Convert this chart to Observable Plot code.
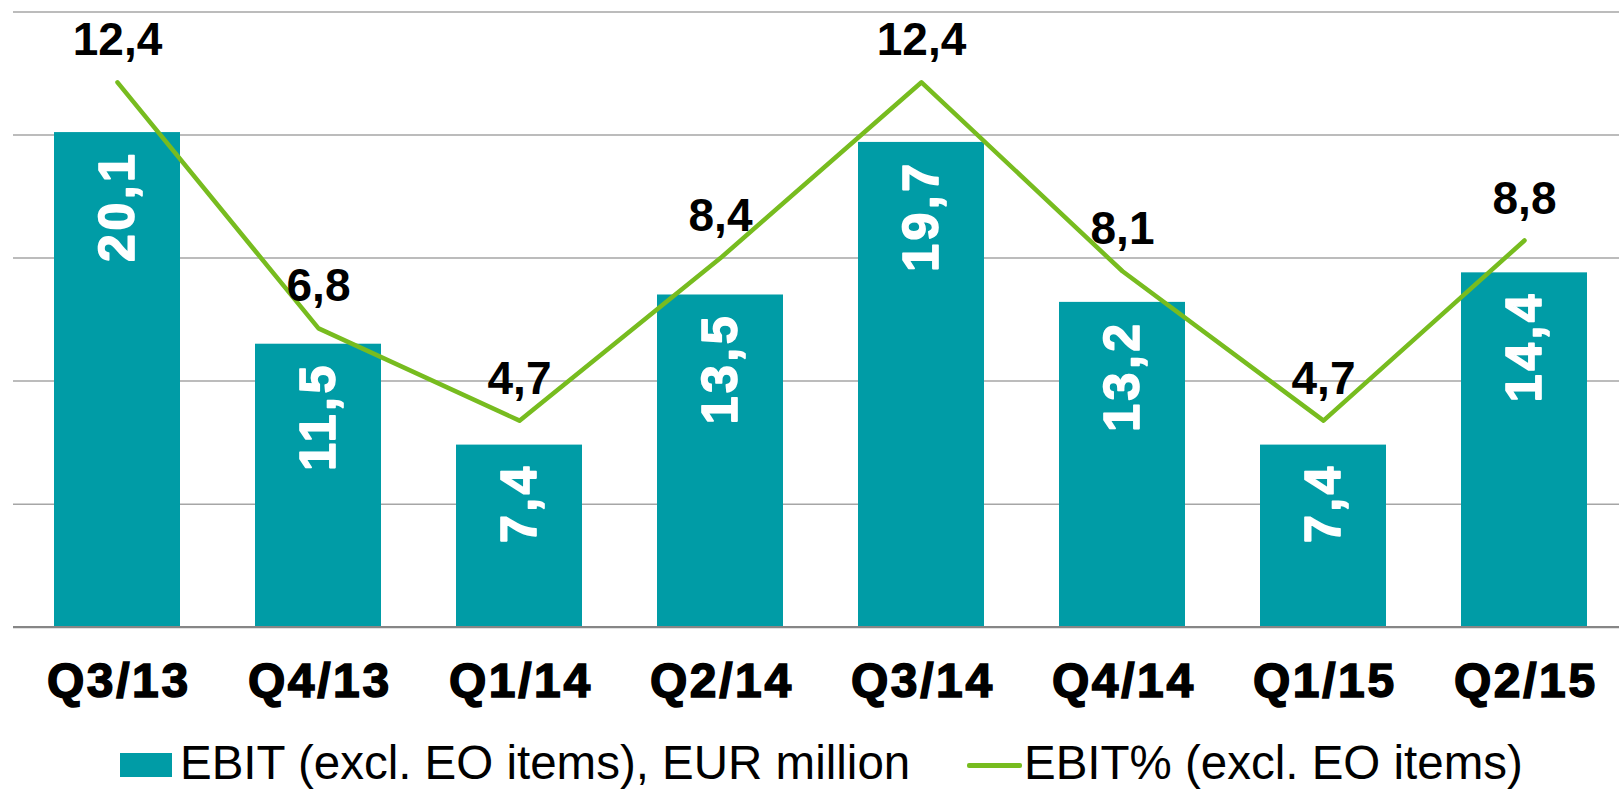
<!DOCTYPE html>
<html><head><meta charset="utf-8">
<script src="https://cdn.jsdelivr.net/npm/d3@7"></script>
<script src="https://cdn.jsdelivr.net/npm/@observablehq/plot@0.6"></script>
<style>
html,body{margin:0;padding:0;background:#fff;overflow:hidden;}
#chart{position:relative;width:1619px;height:789px;overflow:hidden;font-family:"Liberation Sans",Arial,sans-serif;}
#chart svg{position:absolute;left:0;top:0;max-width:none !important;}
#chart g[aria-label="x-axis tick label"]{stroke:#000;stroke-width:1.5px;letter-spacing:2.6px;}
#chart g.barlab{letter-spacing:3.5px;}
.leg{position:absolute;font-size:47.5px;line-height:47px;color:#000;white-space:nowrap;}
.sw{position:absolute;}
</style></head><body><div id="chart"></div>
<script>
const quarters = ["Q3/13","Q4/13","Q1/14","Q2/14","Q3/14","Q4/14","Q1/15","Q2/15"];
const ebit = [20.1, 11.5, 7.4, 13.5, 19.7, 13.2, 7.4, 14.4];
const ebitPct = [12.4, 6.8, 4.7, 8.4, 12.4, 8.1, 4.7, 8.8];
const leftMax = 25, rightMax = 14;
const gridTicks = [5, 10, 15, 20, 25];
const seriesNames = ["EBIT (excl. EO items), EUR million", "EBIT% (excl. EO items)"];
const barColor = "#009ca6", lineColor = "#77bc1f";

const data = quarters.map((q, i) => ({q, ebit: ebit[i], pct: ebitPct[i]}));
const fmt = v => v.toFixed(1).replace(".", ",");
const toLeft = v => v * leftMax / rightMax;

const plot = Plot.plot({
  width: 1627, height: 725,
  marginTop: 11.5, marginBottom: 98.3, marginLeft: 13, marginRight: 0,
  x: {domain: quarters, paddingInner: 0.375, paddingOuter: 0.1875, label: null},
  y: {domain: [0, leftMax], axis: null},
  style: {fontFamily: '"Liberation Sans",Arial,sans-serif', background: "white", overflow: "visible", maxWidth: "none"},
  marks: [
    Plot.ruleY(gridTicks, {stroke: "#a6a6a6", strokeWidth: 1.5}),
    Plot.barY(data, {x: "q", y: "ebit", fill: barColor}),
    Plot.ruleY([0], {stroke: "#868686", strokeWidth: 2.2}),
    Plot.line(data, {x: "q", y: d => toLeft(d.pct), stroke: lineColor, strokeWidth: 4.5, strokeLinecap: "round"}),
    Plot.text(data, {x: "q", y: "ebit", text: d => fmt(d.ebit), rotate: -90, textAnchor: "end", dy: 18,
      fill: "white", stroke: "white", strokeWidth: 1.6, fontSize: 50, fontWeight: "bold", className: "barlab"}),
    Plot.text(data, {x: "q", y: d => toLeft(d.pct), text: d => fmt(d.pct), dy: -41.7,
      fill: "black", fontSize: 46, fontWeight: "bold"}),
    Plot.axisX({tickSize: 0, tickPadding: 36, fontSize: 48, fontWeight: "bold", label: null, dx: 1.3})
  ]
});
const chart = document.getElementById("chart");
chart.appendChild(plot);

function add(html) { chart.insertAdjacentHTML("beforeend", html); }
add(`<div class="sw" style="left:120px;top:753px;width:52px;height:24px;background:${barColor}"></div>`);
add(`<div class="leg" style="left:180px;top:739px">${seriesNames[0]}</div>`);
add(`<div class="sw" style="left:967px;top:763px;width:55px;height:4.5px;border-radius:2px;background:${lineColor}"></div>`);
add(`<div class="leg" style="left:1024px;top:739px">${seriesNames[1]}</div>`);
</script>
</body></html>
